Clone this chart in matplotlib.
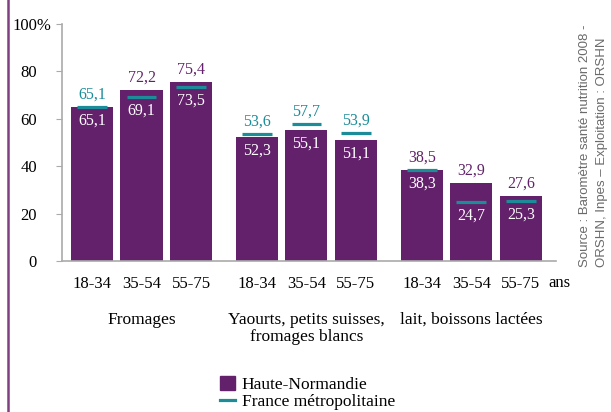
import matplotlib
matplotlib.use("Agg")
import matplotlib.pyplot as plt
import matplotlib.transforms as mtransforms
from matplotlib.patches import Patch
from matplotlib.lines import Line2D
import numpy as np

# ---- data ----
groups = ["Fromages", "Yaourts, petits suisses,\nfromages blancs", "lait, boissons lactées"]
ages = ["18-34", "35-54", "55-75"]
haute_normandie = [65.1, 72.2, 75.4, 52.3, 55.1, 51.1, 38.5, 32.9, 27.6]
france = [65.1, 69.1, 73.5, 53.6, 57.7, 53.9, 38.3, 24.7, 25.3]
yticks = [0, 20, 40, 60, 80, 100]
ytick_labels = ["0", "20", "40", "60", "80", "100%"]

PURPLE = "#62216a"
TEAL = "#1b8c98"
GRAY = "#aaaaaa"

plt.rcParams["font.family"] = ["Liberation Serif", "DejaVu Serif"]

fig = plt.figure(figsize=(6.11, 4.12), dpi=100)
ax = fig.add_axes([62 / 611, 1 - 261 / 412, (556 - 62) / 611, (261 - 24) / 412])

group_step = 3.33
x = np.array([g * group_step + i for g in range(3) for i in range(3)])

ax.bar(x, haute_normandie, width=0.85, color=PURPLE, zorder=2)
ax.hlines(france, x - 0.3, x + 0.3, color=TEAL, linewidth=2.3, zorder=3)

fs_val = 11.5
fs_tick = 12
fs_cat = 12.5
for xi, hn, fr in zip(x, haute_normandie, france):
    if fr >= hn:
        top_val, top_col, low_val = fr, TEAL, hn
    else:
        top_val, top_col, low_val = hn, PURPLE, fr
    ax.annotate(f"{top_val:.1f}".replace(".", ","), (xi, top_val), xytext=(0, 3),
                textcoords="offset points", ha="center", va="bottom",
                color=top_col, fontsize=fs_val, zorder=4)
    ax.annotate(f"{low_val:.1f}".replace(".", ","), (xi, low_val), xytext=(0, -4),
                textcoords="offset points", ha="center", va="top",
                color="white", fontsize=fs_val, zorder=4)

ax.set_xlim(-0.606, 9.37)
ax.set_ylim(0, 100)
ax.set_yticks(yticks)
ax.set_yticklabels(ytick_labels, fontsize=fs_tick)
ax.tick_params(axis="y", length=4, color=GRAY, pad=14)
for lab in ax.get_yticklabels():
    if lab.get_text().endswith("%"):
        lab.set_transform(lab.get_transform() + mtransforms.ScaledTranslation(14 / 100, 0, fig.dpi_scale_trans))

ax.set_xticks(x)
ax.set_xticklabels(ages * 3, fontsize=fs_tick)
ax.tick_params(axis="x", length=0, pad=11)

for s in ["top", "right"]:
    ax.spines[s].set_visible(False)
for s in ["left", "bottom"]:
    ax.spines[s].set_color(GRAY)
    ax.spines[s].set_linewidth(1.2)

trans = mtransforms.blended_transform_factory(ax.transData, ax.transAxes)
for g, name in enumerate(groups):
    cx = g * group_step + 1
    ax.text(cx, -0.215, name, transform=trans, ha="center", va="top",
            fontsize=fs_cat, linespacing=1.05, multialignment="center")

fig.text(548 / 611, 1 - 283 / 412, "ans", ha="left", va="center", fontsize=fs_tick)

# Left purple rule
fig.add_artist(Line2D([8 / 611, 8 / 611], [0, 1], color="#80407f", linewidth=1.8, transform=fig.transFigure))

# Source text
fig.text(585 / 611, 1 - 267 / 412, "Source : Baromètre santé nutrition 2008 -",
         rotation=90, ha="center", va="bottom", fontsize=9.5, color="#6a6a6a",
         family=["Liberation Sans", "DejaVu Sans"])
fig.text(602 / 611, 1 - 267 / 412, "ORSHN, Inpes – Exploitation : ORSHN",
         rotation=90, ha="center", va="bottom", fontsize=9.5, color="#6a6a6a",
         family=["Liberation Sans", "DejaVu Sans"])

handles = [Patch(facecolor=PURPLE, edgecolor=PURPLE),
           Line2D([0], [0], color=TEAL, linewidth=2.3)]
fig.legend(handles, ["Haute-Normandie", "France métropolitaine"], loc="upper left",
           bbox_to_anchor=(220 / 611, 1 - 376 / 412), frameon=False, fontsize=fs_cat,
           handlelength=0.85, handleheight=0.85, handletextpad=0.4, labelspacing=0.02,
           borderpad=0, borderaxespad=0)

fig.savefig("out.png", dpi=100)
